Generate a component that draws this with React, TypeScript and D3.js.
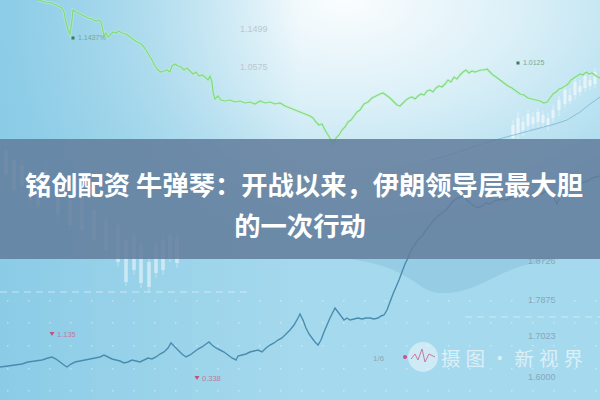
import React from "react";
import * as d3 from "d3";

// ---------- data ----------
// upper green price line: [time, level]
const greenTime = [38,45,52,58,62,64,66,68,70,72,73,76,80,84,88,92,96,99,101,102,104,106,108,110,113,116,119,122,126,130,134,137,140,143,146,149,152,155,158,161,164,167,170,172,175,178,181,184,187,190,193,196,199,202,205,208,210,212,213,215,218,221,225,230,235,240,245,250,255,260,265,270,275,280,285,290,295,300,305,310,313,316,319,322,325,328,331,333,336,339,342,345,348,351,354,357,360,364,368,372,376,380,383,386,390,394,397,400,403,406,409,412,415,418,421,424,427,430,433,436,439,442,445,448,451,454,457,460,463,466,469,472,475,478,481,484,487,490,493,496,500,504,508,512,516,520,524,528,532,536,540,544,547,550,553,556,559,562,565,568,571,574,577,580,583,586,589,592,596,600];
const greenLevel = [150,148,147,144,142,138,128,120,116,130,140,138,136,134,132,131,129,130,128,124,114,117,113,115,118,117,119,117,116,113,110,108,107,104,100,95,90,84,80,78,79,80,78,84,86,84,83,80,82,79,76,78,74,75,73,70,74,68,58,51,54,50,49,50,48,49,47,48,46,49,47,48,46,47,44,42,40,38,36,34,32,28,25,26,20,15,10,5,12,15,20,23,28,30,34,38,40,46,48,52,54,56,57,55,52,48,45,44,47,50,52,53,51,54,56,55,59,60,58,62,64,63,66,70,68,73,71,75,78,80,77,79,78,79,80,80,81,78,75,73,70,67,64,62,59,56,55,52,51,50,49,47,48,52,56,58,61,62,64,66,70,72,74,76,75,78,76,77,74,72];

// lower blue price line: [time, level]
const blueTime = [0,8,15,22,28,35,42,48,52,56,60,64,67,71,75,80,85,90,95,100,104,108,112,116,120,124,128,132,136,140,144,148,152,156,160,164,168,171,174,178,182,186,190,194,198,202,206,209,212,216,220,224,228,232,236,238,242,246,250,254,258,262,266,270,274,278,282,286,290,294,298,300,303,306,309,312,315,318,321,324,327,330,333,335,338,341,344,347,350,354,358,362,366,370,374,378,381,384,387,390,393,396,399,402,405,408,411,414,418,422,426,430,434,438,442,446,450,454,458,462,466,470,474,478,482,486,490,494,498,502,506,510,514,518,522,526,530,534,538,542,546,550,554,557,560,564,568,572,576,580,584,588,592,596,600];
const blueLevel = [3,4,5,6,8,9,10,12,13,11,8,5,3,6,8,9,10,11,12,13,15,13,11,10,9,7,8,10,9,8,10,12,11,13,16,18,22,27,24,20,16,13,15,18,21,23,26,28,25,22,20,18,15,12,10,14,15,16,18,19,20,18,22,25,27,30,32,36,40,45,52,56,50,42,36,32,28,25,30,38,45,52,58,62,58,54,50,52,50,51,52,51,52,52,51,52,54,55,60,68,76,83,90,98,106,112,120,124,130,134,140,145,150,154,157,160,165,170,172,174,171,167,164,162,164,167,166,169,170,171,170,172,174,173,175,176,175,177,178,176,179,177,172,166,174,180,183,182,185,186,188,189,192,193,194];

// faint secondary line
const faintTime = [430,450,470,495,510,525,540,555,567,580,590,600];
const faintLevel = [210,215,222,230,234,238,242,246,250,258,266,273];

// upper-right candles (top scale)
const candleUpX = [513,518,523,528,533,538,543,548,553,559,565,570,575,580,585,590,595];
const candleUpOpen = [25,32,28,36,33,38,35,32,40,50,60,55,68,64,74,70,78];
const candleUpClose = [12,16,20,24,26,28,27,25,32,40,46,49,55,58,62,64,66];
const candleUpHigh = [30,38,34,40,38,42,39,37,45,54,66,62,72,70,80,76,82];
const candleUpLow = [10,11,14,18,22,23,22,20,28,34,42,46,50,54,58,60,62];

// lower-left candles (low scale)
const candleLowX = [6,14,22,30,38,46,58,70,82,94,106,118,126,134,141,149,156,163,170,177];
const candleLowOpen = [220,210,205,195,190,200,180,170,175,160,150,145,130,135,125,108,125,130,135,132];
const candleLowClose = [195,180,185,170,165,175,155,145,140,130,120,108,88,100,87,83,97,100,112,107];
const candleLowHigh = [225,215,212,200,195,206,186,175,180,166,155,150,135,140,130,112,130,136,140,137];
const candleLowLow = [190,175,178,165,160,170,150,140,135,125,115,103,84,95,82,78,92,95,108,102];

// axis tick labels
const topTickLabels = ["1.1499", "1.0575"];
const topTickLevels = [121, 83];
const rightTickLabels = ["1.8726", "1.7875", "1.7023", "1.6000"];
const rightTickLevels = [109, 70, 34, -7];

// marker labels
const greenMarkers = [{ t: 73, v: 112, label: "1.1437%" }, { t: 518, v: 87, label: "1.0125" }];
const pinkMarkers = [{ t: 52, v: 36, label: "1.135" }, { t: 197, v: -8, label: "0.338" }];
const dateLabels = [{ t: 373, v: 12, label: "1/6" }];

// shaded cloud below banner
const cloudTime = [350, 370, 390, 410, 425, 440, 460, 480, 500, 525, 560];
const cloudLevel = [111, 108, 102, 92, 80, 76, 78, 85, 96, 106, 111];

const titleLines = ["铭创配资 牛弹琴：开战以来，伊朗领导层最大胆", "的一次行动"];
const watermark = "摄图·新视界";

export default function App() {
  const W = 600, H = 400;
  const x = d3.scaleLinear().domain([0, 600]).range([0, W]);
  const yTop = d3.scaleLinear().domain([0, 150]).range([150, 0]);
  const yLow = d3.scaleLinear().domain([0, 200]).range([370, 170]);

  const zipPts = (a: number[], b: number[]) => a.map((t, i) => [t, b[i]] as [number, number]);
  const lineTop = d3.line<[number, number]>().x(d => x(d[0])).y(d => yTop(d[1]));
  const lineLow = d3.line<[number, number]>().x(d => x(d[0])).y(d => yLow(d[1]));
  const cloudArea = d3.area<[number, number]>().x(d => x(d[0])).y0(yLow(111)).y1(d => yLow(d[1])).curve(d3.curveBasis);

  const greenPath = lineTop(zipPts(greenTime, greenLevel)) || "";
  const bluePath = lineLow(zipPts(blueTime, blueLevel)) || "";
  const faintPath = lineLow(zipPts(faintTime, faintLevel)) || "";
  const cloudPath = cloudArea(zipPts(cloudTime, cloudLevel)) || "";

  const gridXs = d3.range(7, 600, 21);
  const gridYs = [yLow(70), yLow(48), yLow(25), yLow(2), yLow(-20)];

  const font = "'Noto Sans CJK SC', 'Noto Sans', sans-serif";

  return (
    <svg width={W} height={H} style={{ position: "fixed", left: 0, top: 0, display: "block" }}>
      <defs>
        <radialGradient id="glow" cx="50%" cy="50%" r="50%">
          <stop offset="0%" stopColor="#ffffff" stopOpacity={0.95} />
          <stop offset="45%" stopColor="#ffffff" stopOpacity={0.6} />
          <stop offset="100%" stopColor="#ffffff" stopOpacity={0} />
        </radialGradient>
        <linearGradient id="leftTint" x1="0" x2="1" y1="0" y2="0">
          <stop offset="0%" stopColor="#86c9e5" stopOpacity={0.85} />
          <stop offset="25%" stopColor="#8ccce6" stopOpacity={0.5} />
          <stop offset="50%" stopColor="#8ccce6" stopOpacity={0} />
        </linearGradient>
      </defs>

      {/* background */}
      <rect x={0} y={0} width={W} height={H} fill="#a5d9ed" />
      <ellipse cx={345} cy={0} rx={390} ry={235} fill="url(#glow)" />
      <rect x={0} y={0} width={W} height={H} fill="url(#leftTint)" />

      {/* cloud shading */}
      <path d={cloudPath} fill="#7fb9d6" opacity={0.4} />

      {/* dotted grid */}
      {gridYs.map((gy, i) =>
        gridXs.map((gx, j) => (
          <rect key={`g${i}-${j}`} x={gx} y={gy} width={1.5} height={1.5} fill="#ffffff" opacity={0.4} />
        ))
      )}
      <line x1={0} x2={250} y1={yLow(78)} y2={yLow(78)} stroke="#ffffff" strokeOpacity={0.5} strokeDasharray="7 5" />
      <line x1={465} x2={600} y1={yLow(53)} y2={yLow(53)} stroke="#ffffff" strokeOpacity={0.45} strokeDasharray="7 5" />

      {/* candles */}
      {candleUpX.map((cx, i) => (
        <g key={`cu${i}`} opacity={0.6}>
          <line x1={x(cx)} x2={x(cx)} y1={yTop(candleUpHigh[i])} y2={yTop(candleUpLow[i])} stroke="#ffffff" strokeWidth={0.8} />
          <rect x={x(cx) - 1.6} y={yTop(candleUpOpen[i])} width={3.2} height={yTop(candleUpClose[i]) - yTop(candleUpOpen[i])} fill="#ffffff" />
        </g>
      ))}
      {candleLowX.map((cx, i) => (
        <g key={`cl${i}`} opacity={0.5}>
          <line x1={x(cx)} x2={x(cx)} y1={yLow(candleLowHigh[i])} y2={yLow(candleLowLow[i])} stroke="#ffffff" strokeWidth={0.8} />
          <rect x={x(cx) - 1.8} y={yLow(candleLowOpen[i])} width={3.6} height={yLow(candleLowClose[i]) - yLow(candleLowOpen[i])} fill="#ffffff" />
        </g>
      ))}

      {/* lines */}
      <path d={faintPath} fill="none" stroke="#6fb0d2" strokeWidth={1} opacity={0.7} />
      <path d={greenPath} fill="none" stroke="#c4f4c4" strokeWidth={3} opacity={0.5} />
      <path d={greenPath} fill="none" stroke="#80da80" strokeWidth={1.2} />
      <path d={bluePath} fill="none" stroke="#4a8cb0" strokeWidth={1.4} />

      {/* tick labels */}
      {topTickLabels.map((t, i) => (
        <text key={`tt${i}`} x={x(240)} y={yTop(topTickLevels[i])} dy="0.35em" fontSize={9} fontFamily="Liberation Sans, sans-serif" fill="#bcc8ce">{t}</text>
      ))}
      {rightTickLabels.map((t, i) => (
        <text key={`rt${i}`} x={x(528)} y={yLow(rightTickLevels[i])} dy="0.35em" fontSize={9} fontFamily="Liberation Sans, sans-serif" fill="#7d98a8" opacity={0.75}>{t}</text>
      ))}
      {greenMarkers.map((m, i) => (
        <g key={`gm${i}`}>
          <rect x={x(m.t) - 1.5} y={yTop(m.v) - 1.5} width={3} height={3} fill="#3d7a55" />
          <text x={x(m.t) + 5} y={yTop(m.v)} dy="0.35em" fontSize={7} fontFamily="Liberation Sans, sans-serif" fill="#7aa890">{m.label}</text>
        </g>
      ))}
      {pinkMarkers.map((m, i) => (
        <g key={`pm${i}`}>
          <path d={`M${x(m.t) - 2.5},${yLow(m.v) - 2}L${x(m.t) + 2.5},${yLow(m.v) - 2}L${x(m.t)},${yLow(m.v) + 2}Z`} fill="#c0507e" />
          <text x={x(m.t) + 5} y={yLow(m.v)} dy="0.35em" fontSize={7.5} fontFamily="Liberation Sans, sans-serif" fill="#c07aa0">{m.label}</text>
        </g>
      ))}
      {dateLabels.map((m, i) => (
        <text key={`dl${i}`} x={x(m.t)} y={yLow(m.v)} dy="0.35em" fontSize={8} fontFamily="Liberation Sans, sans-serif" fill="#8fa9b8">{m.label}</text>
      ))}

      {/* banner */}
      <rect x={0} y={139} width={W} height={120} fill="#627d9c" opacity={0.86} />
      {titleLines.map((t, i) => (
        <text key={`tl${i}`} x={i === 0 ? 304 : 300} y={186 + i * 41} dy="0.35em" textAnchor="middle" fontSize={26.3} fontWeight={700} fontFamily={font} fill="#ffffff">{t}</text>
      ))}

      {/* watermark */}
      <circle cx={405} cy={357} r={2} fill="#d0508a" />
      <circle cx={423} cy={357} r={15} fill="#ffffff" opacity={0.45} />
      <path d="M411,359 L415,354 L418,360 L422,349 L425,362 L429,354 L435,357" fill="none" stroke="#c8789e" strokeWidth={1} />
      <text x={441} y={359} dy="0.35em" fontSize={19.5} letterSpacing={5} fontFamily={font} fill="#ffffff" opacity={0.6}>{watermark}</text>
    </svg>
  );
}
